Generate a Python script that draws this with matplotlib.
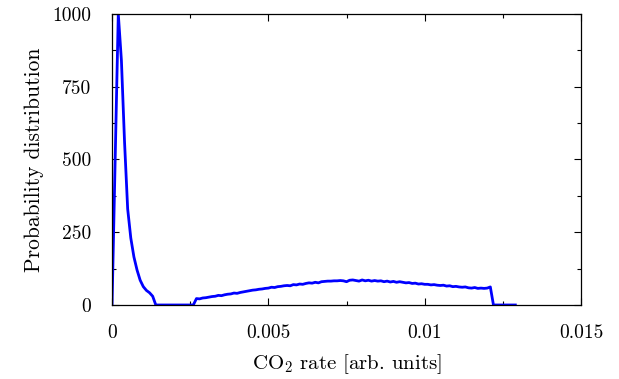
import numpy as np
import matplotlib
matplotlib.use('Agg')
import matplotlib.pyplot as plt
from matplotlib.ticker import MultipleLocator, FixedLocator

plt.rcParams['font.family'] = 'cmr10'
plt.rcParams['mathtext.fontset'] = 'cm'
plt.rcParams['axes.unicode_minus'] = False

### data
# narrow peak near zero
peak_x = [0.0, 0.0002, 0.0003, 0.0004, 0.0005, 0.0006, 0.0007, 0.0008,
          0.0009, 0.0010, 0.0011, 0.0012, 0.0013, 0.0014, 0.0026]
peak_y = [0, 1000, 840, 560, 330, 230, 165, 120, 85, 63, 50, 42, 30, 0, 0]

# broad plateau, step 0.0001 from 0.0027 to 0.0121
plateau_y = [22, 21, 24, 25, 27, 29, 30, 33, 32, 35,
             37, 38, 41, 40, 43, 45, 47, 49, 51, 52,
             54, 55, 57, 58, 61, 60, 63, 64, 66, 67,
             66, 70, 69, 72, 71, 74, 76, 75, 78, 76,
             80, 81, 82, 82, 83, 83, 84, 83, 80, 85,
             86, 84, 82, 86, 83, 85, 82, 84, 82, 83,
             80, 82, 79, 81, 78, 80, 78, 76, 77, 74,
             75, 72, 73, 71, 71, 69, 70, 68, 67, 68,
             65, 66, 63, 64, 62, 61, 62, 59, 58, 60,
             57, 58, 57, 58, 62]
plateau_x = [0.0027 + 0.0001 * i for i in range(len(plateau_y))]

# tail of zeros
tail_x = [0.0122, 0.0129]
tail_y = [0, 0]

x = np.array(peak_x + plateau_x + tail_x)
y = np.array(peak_y + plateau_y + tail_y)

xticks = [0, 0.005, 0.01, 0.015]
xticklabels = ['0', '0.005', '0.01', '0.015']
yticks = [0, 250, 500, 750, 1000]

fig = plt.figure(figsize=(6.19, 3.79), dpi=100)
ax = fig.add_axes([0.181, 0.1953, 0.7576, 0.7678])

ax.plot(x, y, color='#0000ff', lw=2.0)

ax.set_xlim(0, 0.015)
ax.set_ylim(0, 1000)
ax.xaxis.set_major_locator(FixedLocator(xticks))
ax.set_xticklabels(xticklabels)
ax.xaxis.set_minor_locator(MultipleLocator(0.0025))
ax.yaxis.set_major_locator(FixedLocator(yticks))
ax.yaxis.set_minor_locator(MultipleLocator(125))

ax.tick_params(which='both', direction='in', top=True, right=True,
               labelsize=14, width=0.8)
ax.tick_params(which='major', length=5)
ax.tick_params(which='minor', length=3)
ax.tick_params(axis='x', pad=14)
ax.tick_params(axis='y', pad=15)
for s in ax.spines.values():
    s.set_linewidth(0.9)

ax.set_xlabel(r'CO$_2$ rate [arb. units]', fontsize=15, labelpad=7)
ax.set_ylabel('Probability distribution', fontsize=15.5, labelpad=6)

fig.savefig('out.png', dpi=100)
